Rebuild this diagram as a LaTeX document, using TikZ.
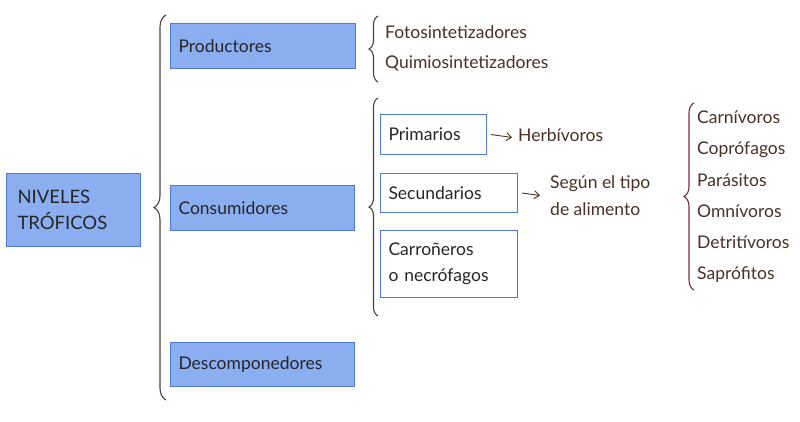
\documentclass[tikz,border=0pt]{standalone}
\usepackage{fontspec}
\setmainfont{Lato}
\usetikzlibrary{decorations.pathreplacing,arrows.meta}
\definecolor{boxfill}{HTML}{8AAEF0}
\definecolor{boxline}{HTML}{4D7BD6}
\definecolor{txtbrown}{HTML}{4A3028}
\definecolor{bracegray}{HTML}{4A4242}
\definecolor{bracered}{HTML}{7A2E3E}
\begin{document}
\begin{tikzpicture}[x=1pt,y=-1pt,
  bluebox/.style={draw=boxline, fill=boxfill, line width=1pt, anchor=north west, inner xsep=8pt, inner ysep=0pt, align=left, font=\fontsize{17.5}{26}\selectfont, text=black!85},
  whitebox/.style={bluebox, fill=white},
  lbl/.style={anchor=west, inner sep=0pt, yshift=-1.5pt, text=txtbrown, font=\fontsize{17.5}{27}\selectfont, align=left, text height=12.5pt, text depth=4pt},
  brc/.style={decorate, decoration={brace, amplitude=#1}, line width=1.1pt, draw=bracegray},
  arr/.style={-{Straight Barb[length=5pt,width=8pt]}, line width=0.9pt, draw=txtbrown}]
\useasboundingbox[fill=white] (0,0) rectangle (800,421);
% boxes
\node[bluebox, inner xsep=11pt, text width=112pt, minimum height=73pt, font=\fontsize{18.5}{26}\selectfont] (niv) at (6,173) {NIVELES\\TRÓFICOS};
\node[bluebox, text width=169pt, minimum height=45pt] (prod) at (170,23) {Productores};
\node[bluebox, text width=168pt, minimum height=45pt] (cons) at (170,185) {Consumidores};
\node[bluebox, text width=168pt, minimum height=44pt] (desc) at (170,342) {Descomponedores};
\node[whitebox, text width=90pt, minimum height=40pt] (prim) at (380,114) {Primarios};
\node[whitebox, text width=121pt, minimum height=39pt] (sec) at (380,173) {Secundarios};
\node[whitebox, text width=121pt, minimum height=67pt] (carr) at (380,230) {Carroñeros\\o necrófagos};
% labels
\node[lbl] (foto) at (385,33) {Fotosintetizadores};
\node[lbl] (quim) at (385,63) {Quimiosintetizadores};
\node[lbl] (herb) at (518,136) {Herbívoros};
\node[lbl, text height=, text depth=] (seg) at (550,194) {Según el tipo\\de alimento};
\node[lbl] (l1) at (697,118) {Carnívoros};
\node[lbl] (l2) at (697,149) {Coprófagos};
\node[lbl] (l3) at (697,181) {Parásitos};
\node[lbl] (l4) at (697,212) {Omnívoros};
\node[lbl] (l5) at (697,243) {Detritívoros};
\node[lbl] (l6) at (697,274) {Saprófitos};
% braces
\draw[brc=12pt] (166,400) -- (166,15);
\draw[brc=9pt] (378,82) -- (378,16);
\draw[brc=9pt] (378,316) -- (378,98);
\draw[brc=10pt, draw=bracered] (694,290) -- (694,103);
% arrows
\draw[arr] ([xshift=4pt]prim.east) -- ([xshift=-6pt]herb.west);
\draw[arr] ([xshift=4pt]sec.east) -- ([xshift=-10pt]seg.west);
\end{tikzpicture}
\end{document}
